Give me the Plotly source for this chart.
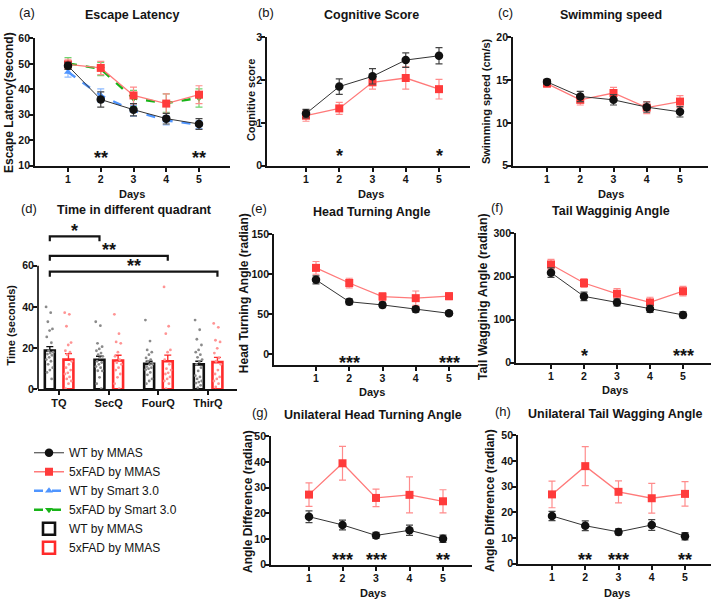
import plotly.graph_objects as go

W, H = 718, 606
FONT = "Liberation Sans, Arial, Helvetica, sans-serif"
INK = "#141414"

# ---------------- data ----------------
days = [1, 2, 3, 4, 5]

# (a) Escape latency (s)
esc_wt_mmas = [49.2, 36.0, 32.0, 28.5, 26.4]
esc_wt_mmas_err = [1.4, 3.0, 2.4, 2.1, 2.1]
esc_fad_mmas = [49.8, 48.4, 37.6, 34.4, 37.9]
esc_fad_mmas_err = [2.0, 2.6, 3.3, 3.8, 3.5]
esc_wt_smart = [46.8, 37.6, 31.6, 27.8, 26.1]
esc_wt_smart_err = [2.0, 2.6, 2.1, 1.8, 1.5]
esc_fad_smart = [50.2, 48.0, 36.4, 34.6, 36.6]
esc_fad_smart_err = [2.2, 2.6, 3.2, 3.6, 3.6]
esc_stars = ["", "**", "", "", "**"]

# (b) Cognitive score
cog_wt = [1.22, 1.85, 2.09, 2.47, 2.57]
cog_wt_err = [0.10, 0.18, 0.18, 0.17, 0.19]
cog_fad = [1.17, 1.34, 1.95, 2.05, 1.79]
cog_fad_err = [0.13, 0.14, 0.16, 0.26, 0.23]
cog_stars = ["", "*", "", "", "*"]

# (c) Swimming speed (cm/s)
swim_wt = [14.8, 13.1, 12.7, 11.85, 11.3]
swim_wt_err = [0.3, 0.6, 0.6, 0.6, 0.6]
swim_fad = [14.6, 12.7, 13.5, 11.8, 12.5]
swim_fad_err = [0.4, 0.6, 0.65, 0.7, 0.7]

# (d) Time in different quadrant (s)
quadrants = ["TQ", "SecQ", "FourQ", "ThirQ"]
quad_wt_mean = [18.8, 14.3, 12.4, 12.1]
quad_wt_sem = [1.9, 1.7, 1.2, 1.5]
quad_fad_mean = [14.4, 14.0, 13.6, 13.2]
quad_fad_sem = [2.9, 2.5, 3.0, 2.3]
quad_wt_points = [
    [40.0, 37.2, 32.8, 29.3, 28.5, 25.4, 22.6, 18.7, 18.0, 17.6, 17.1, 16.5, 15.5, 14.4, 13.6, 12.1, 10.5, 9.3, 8.2, 5.0],
    [32.8, 30.9, 22.3, 20.7, 19.6, 18.7, 17.6, 16.8, 16.0, 15.2, 13.6, 13.0, 12.1, 11.0, 10.5, 9.0, 8.9, 5.8, 2.7, 0.3],
    [33.6, 23.4, 19.1, 18.0, 16.8, 15.2, 14.4, 13.6, 12.1, 12.0, 11.0, 10.5, 10.0, 9.5, 8.2, 7.0, 5.0, 4.0, 2.7],
    [33.6, 28.9, 24.3, 21.5, 19.1, 18.0, 16.8, 15.5, 14.4, 13.3, 12.1, 10.5, 8.9, 6.6, 6.0, 5.0, 4.0, 3.5, 3.0, 1.9, 0.8],
]
quad_fad_points = [
    [37.2, 36.4, 30.6, 22.7, 21.5, 18.7, 18.0, 16.8, 13.6, 12.1, 10.5, 9.3, 8.0, 7.4, 6.0, 5.0, 4.0, 2.7, 0.3],
    [36.4, 27.0, 23.0, 22.3, 18.0, 16.0, 14.4, 12.9, 12.1, 10.5, 9.3, 7.4, 5.8, 2.7, 0.3],
    [49.7, 30.6, 27.0, 19.1, 18.0, 14.4, 12.1, 10.0, 9.3, 8.0, 7.4, 6.0, 5.0, 4.0, 2.7, 0.3],
    [32.0, 30.1, 23.8, 23.0, 19.9, 17.6, 15.2, 13.6, 12.1, 9.3, 7.4, 6.0, 5.0, 4.0, 2.7, 1.1],
]
# significance brackets: (from quadrant, group), (to quadrant, group), label
quad_brackets = [((0, "wt"), (1, "wt"), "*"),
                 ((0, "wt"), (2, "fad"), "**"),
                 ((0, "wt"), (3, "fad"), "**")]

# (e) Head turning angle (radian)
head_wt = [93.0, 65.5, 61.5, 56.0, 51.0]
head_wt_err = [5.0, 3.5, 3.5, 3.5, 2.5]
head_fad = [108.0, 89.0, 72.0, 70.0, 72.5]
head_fad_err = [8.0, 6.0, 5.0, 9.0, 4.5]
head_stars = ["", "***", "", "", "***"]

# (f) Tail wagging angle (radian)
tail_wt = [209, 154, 140, 125, 111]
tail_wt_err = [11, 10, 8, 8, 7]
tail_fad = [228, 185, 160, 140, 166]
tail_fad_err = [12, 10, 12, 12, 11]
tail_stars = ["", "*", "", "", "***"]

# (g) Unilateral head turning angle
uhead_wt = [18.7, 15.5, 11.4, 13.4, 10.1]
uhead_wt_err = [2.3, 1.9, 1.2, 2.0, 1.4]
uhead_fad = [27.3, 39.5, 26.0, 27.2, 24.7]
uhead_fad_err = [4.6, 6.6, 3.4, 7.0, 4.5]
uhead_stars = ["", "***", "***", "", "**"]

# (h) Unilateral tail wagging angle
utail_wt = [18.6, 14.8, 12.4, 15.1, 10.7]
utail_wt_err = [1.8, 1.9, 1.2, 2.1, 1.4]
utail_fad = [27.0, 38.0, 28.0, 25.5, 27.2]
utail_fad_err = [5.2, 7.6, 4.3, 5.8, 4.8]
utail_stars = ["", "**", "***", "", "**"]

# ---------------- styles ----------------
BLACK = "#111111"
BLACK_LINE = "#333333"
BLACK_ERR = "#444444"
RED = "#ff3b3b"
RED_LINE = "#ff7a7a"
RED_ERR = "#ff8c8c"
BLUE = "#4f95ff"
BLUE_ERR = "#8dbaff"
GREEN = "#18b418"
GREEN_ERR = "#6fd36f"

# panel geometry in pixels: axis left, right, top, bottom, pixel of first/last tick
PANELS = {
    "a": dict(i=1, l=35, r=230, t=33, b=163, p1=68, p5=199, yr=[10, 60], yt=[10, 20, 30, 40, 50, 60]),
    "b": dict(i=2, l=267, r=470, t=32, b=163, p1=306, p5=439, yr=[0, 3], yt=[0, 1, 2, 3]),
    "c": dict(i=3, l=513, r=708, t=32, b=163, p1=547, p5=680, yr=[5, 20], yt=[5, 10, 15, 20]),
    "d": dict(i=4, l=38, r=237, t=218, b=391, p1=59, p5=208, yr=[0, 60 * (391 - 218) / (391 - 265)], yt=[0, 20, 40, 60]),
    "e": dict(i=5, l=274, r=478, t=233, b=366, p1=316, p5=449, yr=[-150 * (366 - 355) / (355 - 233), 150], yt=[0, 50, 100, 150]),
    "f": dict(i=6, l=516, r=711, t=232, b=364, p1=551, p5=683, yr=[0, 300], yt=[0, 100, 200, 300]),
    "g": dict(i=7, l=271, r=472, t=439, b=570, p1=309, p5=443, yr=[0, 50], yt=[0, 10, 20, 30, 40, 50]),
    "h": dict(i=8, l=518, r=711, t=438, b=569, p1=552, p5=685, yr=[0, 50], yt=[0, 10, 20, 30, 40, 50]),
}


def axn(i):
    return ("x" if i == 1 else f"x{i}", "y" if i == 1 else f"y{i}")


fig = go.Figure()


def line_trace(key, y, err, mcolor, lcolor, ecolor, symbol, size, name,
               dash=None, lw=1.0, show=False, rank=1000):
    xa, ya = axn(PANELS[key]["i"])
    fig.add_trace(go.Scatter(
        x=days, y=y, mode="lines+markers", name=name,
        line=dict(color=lcolor, width=lw, dash=dash),
        marker=dict(color=mcolor, symbol=symbol, size=size, line=dict(width=0)),
        error_y=dict(type="data", array=err, color=ecolor, thickness=1.2, width=3.5),
        xaxis=xa, yaxis=ya, showlegend=show, legendrank=rank, cliponaxis=False))


# (a)
line_trace("a", esc_wt_smart, esc_wt_smart_err, BLUE, BLUE, BLUE_ERR, "triangle-up", 7,
           "WT by Smart 3.0", dash="dash", lw=2.4, show=True, rank=3)
line_trace("a", esc_fad_smart, esc_fad_smart_err, GREEN, GREEN, GREEN_ERR, "triangle-down", 7,
           "5xFAD by Smart 3.0", dash="dash", lw=2.4, show=True, rank=4)
line_trace("a", esc_fad_mmas, esc_fad_mmas_err, RED, RED_LINE, RED_ERR, "square", 8,
           "5xFAD by MMAS", lw=1.3, show=True, rank=2)
line_trace("a", esc_wt_mmas, esc_wt_mmas_err, BLACK, BLACK_LINE, BLACK_ERR, "circle", 8.5,
           "WT by MMAS", lw=1.0, show=True, rank=1)

# (b),(c),(e)-(h)
for key, wt, wte, fad, fade in [
    ("b", cog_wt, cog_wt_err, cog_fad, cog_fad_err),
    ("c", swim_wt, swim_wt_err, swim_fad, swim_fad_err),
    ("e", head_wt, head_wt_err, head_fad, head_fad_err),
    ("f", tail_wt, tail_wt_err, tail_fad, tail_fad_err),
    ("g", uhead_wt, uhead_wt_err, uhead_fad, uhead_fad_err),
    ("h", utail_wt, utail_wt_err, utail_fad, utail_fad_err),
]:
    line_trace(key, fad, fade, RED, RED_LINE, RED_ERR, "square", 8, "5xFAD by MMAS", lw=1.3)
    line_trace(key, wt, wte, BLACK, BLACK_LINE, BLACK_ERR, "circle", 8.5, "WT by MMAS", lw=1.0)

# (d) bars + dots
xa4, ya4 = axn(4)
cat_pos = [1, 2, 3, 4]
OFF_WT, OFF_FAD, BAR_W = -0.185, 0.19, 0.2
wt_x = [c + OFF_WT for c in cat_pos]
fad_x = [c + OFF_FAD for c in cat_pos]
fig.add_trace(go.Bar(
    x=wt_x, y=quad_wt_mean, width=BAR_W, name="WT by MMAS",
    marker=dict(color="white", line=dict(color=BLACK, width=2.6)),
    error_y=dict(type="data", array=quad_wt_sem, arrayminus=[0] * 4, symmetric=False,
                 color=BLACK, thickness=1.4, width=3.5),
    xaxis=xa4, yaxis=ya4, showlegend=True, legendrank=5))
fig.add_trace(go.Bar(
    x=fad_x, y=quad_fad_mean, width=BAR_W, name="5xFAD by MMAS",
    marker=dict(color="white", line=dict(color="#ff2a2a", width=2.6)),
    error_y=dict(type="data", array=quad_fad_sem, arrayminus=[0] * 4, symmetric=False,
                 color="#ff2a2a", thickness=1.4, width=3.5),
    xaxis=xa4, yaxis=ya4, showlegend=True, legendrank=6))


def jitter(n, spread=0.15):
    return [((k * 0.6180339) % 1.0 - 0.5) * spread for k in range(n)]


for pts_list, centers, col in [(quad_wt_points, wt_x, "#8a8a8a"), (quad_fad_points, fad_x, "#ff9494")]:
    xs, ys = [], []
    for c, pts in zip(centers, pts_list):
        js = jitter(len(pts))
        xs += [c + j for j in js]
        ys += pts
    fig.add_trace(go.Scatter(x=xs, y=ys, mode="markers",
                             marker=dict(color=col, size=2.8, line=dict(width=0)),
                             xaxis=xa4, yaxis=ya4, showlegend=False))

# ---------------- axes ----------------
def xr(p):
    scale = (p["p5"] - p["p1"]) / (4 if p["i"] != 4 else 3)
    return [1 - (p["p1"] - p["l"]) / scale, 1 + (p["r"] - p["p1"]) / scale]


axis_base = dict(showline=True, linecolor=INK, linewidth=1.7, ticks="outside", ticklen=4,
                 tickwidth=1.6, tickcolor=INK, showgrid=False, zeroline=False, fixedrange=True,
                 tickfont=dict(family=FONT, size=10.5, color=INK, weight="bold"))

layout = {}
for key, p in PANELS.items():
    i = p["i"]
    xa, ya = axn(i)
    xk = "xaxis" if i == 1 else f"xaxis{i}"
    yk = "yaxis" if i == 1 else f"yaxis{i}"
    xd = dict(axis_base)
    xd.update(domain=[p["l"] / W, p["r"] / W], range=xr(p), anchor=ya, ticklabelstandoff=-1)
    if key == "d":
        xd.update(tickvals=cat_pos, ticktext=quadrants,
                  tickfont=dict(family=FONT, size=11, color=INK, weight="bold"))
    else:
        xd.update(tickvals=days)
    yd = dict(axis_base)
    yd.update(domain=[1 - p["b"] / H, 1 - p["t"] / H], range=p["yr"], anchor=xa,
              tickvals=p["yt"], ticklabelstandoff=-3)
    if key == "d":
        yd.update(showline=False)
    layout[xk] = xd
    layout[yk] = yd

fig.update_layout(**layout)

# ---------------- text ----------------
ann = []


def txt(x, y, s, size, weight="bold", angle=0):
    ann.append(dict(x=x / W, y=1 - y / H, xref="paper", yref="paper", text=s, showarrow=False,
                    font=dict(family=FONT, size=size, color=INK, weight=weight),
                    textangle=angle, xanchor="center", yanchor="middle"))


# panel letters
for s, x, y in [("(a)", 27, 7), ("(b)", 266, 7), ("(c)", 505, 7), ("(d)", 29, 207),
                ("(e)", 259, 207), ("(f)", 497, 206), ("(g)", 260, 415), ("(h)", 503, 414)]:
    txt(x, y, s, 13, weight="normal")
# titles
for s, x, y in [("Escape Latency", 132, 9), ("Cognitive Score", 371, 9), ("Swimming speed", 611, 9),
                ("Time in different quadrant", 134, 208), ("Head Turning Angle", 372, 210),
                ("Tail Wagginig Angle", 611, 209), ("Unilateral Head Turning Angle", 373, 417),
                ("Unilateral Tail Wagging Angle", 615, 416)]:
    txt(x, y, s, 12.5)
# x titles
for x, y in [(132, 192), (371, 192), (611, 192), (372, 394), (615, 392), (373, 599), (617, 599)]:
    txt(x, y, "Days", 11)
# y titles
for s, x, y, sz in [("Escape Latency(second)", 9, 99, 12), ("Cognitive score", 251, 96, 11),
                    ("Swimming speed (cm/s)", 486, 97, 11), ("Time (seconds)", 11, 326, 11),
                    ("Head Turning Angle (radian)", 244, 293, 12),
                    ("Tail Wagginig Angle (radian)", 483, 296, 12.5),
                    ("Angle Difference (radian)", 248, 506, 12), ("Angle Difference (radian)", 490, 505, 12)]:
    txt(x, y, s, sz, angle=-90)

# significance stars (data coords)
STAR_Y = {"a": 13.0, "b": 0.22, "e": -11.5, "f": 16, "g": 1.8, "h": 1.6}
for key, stars in [("a", esc_stars), ("b", cog_stars), ("e", head_stars), ("f", tail_stars),
                   ("g", uhead_stars), ("h", utail_stars)]:
    xa, ya = axn(PANELS[key]["i"])
    for d, s in zip(days, stars):
        if s:
            ann.append(dict(x=d, y=STAR_Y[key], xref=xa, yref=ya, text=s, showarrow=False,
                            font=dict(family=FONT, size=18, color=INK, weight="bold"),
                            xanchor="center", yanchor="middle"))

# (d) brackets
shapes = []
BR_Y = [74.3, 64.8, 57.1]
BR_LEG = 2.4
for (fr, to, lab), yb in zip(quad_brackets, BR_Y):
    x0 = (wt_x if fr[1] == "wt" else fad_x)[fr[0]]
    x1 = (wt_x if to[1] == "wt" else fad_x)[to[0]]
    shapes.append(dict(type="path", xref=xa4, yref=ya4,
                       path=f"M {x0},{yb - BR_LEG} L {x0},{yb} L {x1},{yb} L {x1},{yb - BR_LEG}",
                       line=dict(color=INK, width=2.2)))
    ann.append(dict(x=(x0 + x1) / 2, y=yb + 2.8, xref=xa4, yref=ya4, text=lab, showarrow=False,
                    font=dict(family=FONT, size=18, color=INK, weight="bold"),
                    xanchor="center", yanchor="middle"))
# (d) y-axis line only up to 60
shapes.append(dict(type="line", xref=f"{xa4} domain", yref=ya4, x0=0, x1=0, y0=0, y1=60,
                   line=dict(color=INK, width=1.7)))

fig.update_layout(
    width=W, height=H, autosize=False,
    margin=dict(l=0, r=0, t=0, b=0),
    paper_bgcolor="white", plot_bgcolor="white",
    annotations=ann, shapes=shapes,
    barmode="overlay",
    showlegend=True,
    hovermode=False,
    legend=dict(x=29 / W, y=1 - 441 / H, xanchor="left", yanchor="top",
                font=dict(family=FONT, size=12, color=INK), bgcolor="rgba(0,0,0,0)",
                tracegroupgap=0, itemwidth=30, traceorder="normal"),
)

fig.write_html("out.html", config={"displayModeBar": False},
               post_script="document.body.style.margin='0px';")
